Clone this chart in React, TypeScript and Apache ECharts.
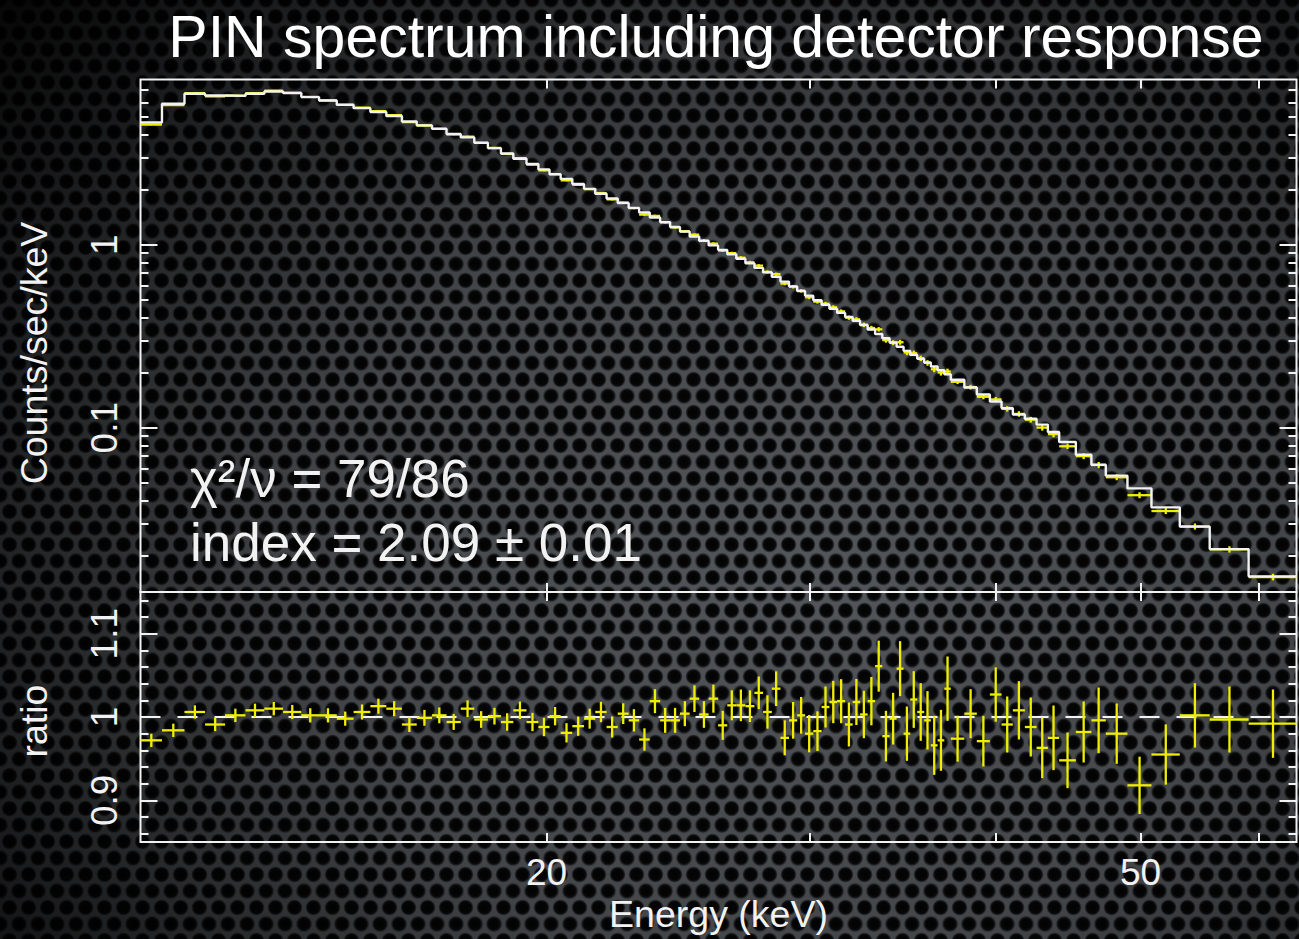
import React, { useEffect, useRef } from 'react';
import * as echarts from 'echarts';

// ---------- data ----------
const titleText = 'PIN spectrum including detector response';
const fitStats = ['χ²/ν = 79/86', 'index = 2.09 ± 0.01'];
const xName = 'Energy (keV)';
const rateName = 'Counts/sec/keV';
const ratioName = 'ratio';

// energy bin edges (keV)
const binEdges = [
  10.69, 11.05, 11.44, 11.81, 12.18, 12.57, 12.94, 13.32, 13.70, 14.08,
  14.47, 14.85, 15.24, 15.62, 16.00, 16.37, 16.76, 17.14, 17.52, 17.89,
  18.27, 18.64, 19.00, 19.39, 19.75, 20.09, 20.44, 20.81, 21.19, 21.56,
  21.94, 22.32, 22.70, 23.07, 23.45, 23.83, 24.20, 24.57, 24.94, 25.31,
  25.68, 26.06, 26.43, 26.80, 27.18, 27.56, 27.93, 28.31, 28.69, 29.07,
  29.44, 29.80, 30.18, 30.57, 30.94, 31.31, 31.70, 32.07, 32.44, 32.82,
  33.20, 33.57, 33.95, 34.32, 34.69, 35.05, 35.43, 35.81, 36.18, 36.56,
  36.94, 37.31, 38.10, 38.84, 39.63, 40.35, 41.06, 41.83, 42.59, 43.34,
  44.10, 45.25, 46.35, 47.39, 49.00, 50.85, 53.12, 55.63, 59.07, 63.60,
];

// folded model (counts/sec/keV) per bin
const modelRate = [
  4.66, 5.90, 6.69, 6.54, 6.51, 6.69, 6.88, 6.74, 6.41, 6.14,
  5.82, 5.58, 5.31, 5.05, 4.72, 4.49, 4.30, 4.03, 3.86, 3.61,
  3.375, 3.155, 2.95, 2.76, 2.58, 2.43, 2.29, 2.15, 2.02, 1.90,
  1.79, 1.69, 1.59, 1.50, 1.41, 1.33, 1.25, 1.18, 1.11, 1.05,
  0.992, 0.937, 0.886, 0.838, 0.791, 0.747, 0.706, 0.668, 0.629, 0.592,
  0.559, 0.527, 0.497, 0.470, 0.447, 0.424, 0.403, 0.384, 0.364, 0.344,
  0.325, 0.308, 0.292, 0.277, 0.263, 0.250, 0.238, 0.227, 0.216, 0.206,
  0.196, 0.183, 0.166, 0.152, 0.139, 0.128, 0.118, 0.112, 0.104, 0.0947,
  0.0835, 0.0712, 0.0628, 0.0547, 0.0466, 0.0367, 0.0288, 0.0217, 0.0154,
];

// data / model ratio per bin
const ratioValues = [
  0.972, 0.984, 1.006, 0.991, 1.002, 1.008, 1.010, 1.006, 1.002, 1.002,
  0.998, 1.006, 1.013, 1.010, 0.991, 0.999, 1.002, 0.994, 1.010, 0.997,
  1.001, 0.994, 1.008, 0.994, 0.988, 1.001, 0.981, 0.989, 0.998, 1.006,
  0.988, 1.004, 0.996, 0.973, 1.019, 0.996, 0.996, 1.004, 1.022, 1.003,
  1.022, 0.990, 1.014, 1.014, 1.013, 1.029, 1.006, 1.034, 0.975, 0.996,
  1.002, 0.980, 0.983, 1.012, 1.018, 1.019, 0.991, 1.018, 1.003, 1.019,
  1.061, 0.977, 0.998, 1.058, 0.980, 1.021, 1.006, 0.996, 0.966, 0.972,
  1.034, 0.974, 1.004, 0.971, 1.027, 0.991, 1.008, 0.988, 0.963, 0.975,
  0.948, 0.982, 0.996, 0.980, 0.918, 0.955, 1.002, 0.997, 0.992,
];

// 1-sigma error on the ratio per bin
const ratioErrors = [
  0.008, 0.008, 0.008, 0.008, 0.008, 0.008, 0.008, 0.0085, 0.0085, 0.0085,
  0.0085, 0.009, 0.009, 0.009, 0.009, 0.0095, 0.0095, 0.0095, 0.010, 0.010,
  0.010, 0.0105, 0.0105, 0.011, 0.011, 0.011, 0.0116, 0.0116, 0.012, 0.0122,
  0.0126, 0.0124, 0.0134, 0.0134, 0.0144, 0.015, 0.015, 0.015, 0.016, 0.016,
  0.0168, 0.0174, 0.018, 0.019, 0.019, 0.0196, 0.020, 0.0208, 0.021, 0.022,
  0.022, 0.0224, 0.0238, 0.0246, 0.0254, 0.0264, 0.0264, 0.0276, 0.0284, 0.029,
  0.0306, 0.0304, 0.031, 0.033, 0.0326, 0.034, 0.0346, 0.035, 0.0354, 0.0366,
  0.0386, 0.0276, 0.0294, 0.0304, 0.0326, 0.0336, 0.035, 0.0354, 0.0364, 0.0388,
  0.0334, 0.0366, 0.0394, 0.0362, 0.0344, 0.0362, 0.0386, 0.0396, 0.041,
];

// axes
const xRange = [10.69, 63.6];
const rateRange = [0.01265, 8];
const ratioRange = [0.85, 1.15];
const xTickValues = [20, 30, 40, 50, 60];
const xLabelValues = [20, 50];
const rateMajorTicks = [0.1, 1];
const rateMinorTicks = [0.02, 0.03, 0.04, 0.05, 0.06, 0.07, 0.08, 0.09, 0.2, 0.3, 0.4, 0.5, 0.6, 0.7, 0.8, 0.9, 2, 3, 4, 5, 6, 7];
const ratioMajorTicks = [0.9, 1, 1.1];
const ratioMinorTicks = [0.86, 0.88, 0.92, 0.94, 0.96, 0.98, 1.02, 1.04, 1.06, 1.08, 1.12, 1.14];

// ---------- styling ----------
const FONT = '"Liberation Sans", Arial, Helvetica, sans-serif';
const WHITE = '#f2f2f2';
const YELLOW = '#f0ee00';

function xAxisDef(gridIndex: number, position: string, labels: boolean) {
  const ax: any = {
    type: 'log', logBase: 10, gridIndex, position,
    min: xRange[0], max: xRange[1],
    axisLine: { show: false, onZero: false },
    axisTick: { show: true, inside: true, length: 9, lineStyle: { color: WHITE, width: 2 }, customValues: xTickValues },
    axisLabel: labels
      ? { show: true, customValues: xLabelValues, margin: 12, color: WHITE, fontSize: 37, fontFamily: FONT,
          formatter: (v: number) => String(Math.round(v)) }
      : { show: false },
    splitLine: { show: false }, minorTick: { show: false }, minorSplitLine: { show: false },
  };
  if (labels) {
    ax.name = xName;
    ax.nameLocation = 'middle';
    ax.nameGap = 53;
    ax.nameTextStyle = { color: WHITE, fontSize: 37.5, fontFamily: FONT };
  }
  return ax;
}

function yAxisDef(gridIndex: number, position: string, type: string, range: number[], ticks: number[], len: number, labels: boolean) {
  return {
    type, gridIndex, position, min: range[0], max: range[1],
    ...(type === 'log' ? { logBase: 10 } : {}),
    axisLine: { show: false, onZero: false },
    axisTick: { show: true, inside: true, length: len, lineStyle: { color: WHITE, width: 2 }, customValues: ticks },
    axisLabel: labels
      ? { show: true, customValues: ticks, rotate: 90, margin: 18, color: WHITE, fontSize: 37, fontFamily: FONT,
          formatter: (v: number) => String(Math.round(v * 100) / 100) }
      : { show: false },
    splitLine: { show: false }, minorTick: { show: false }, minorSplitLine: { show: false },
  };
}

function crossRender(params: any, api: any) {
  const lo = api.value(0), hi = api.value(1), y = api.value(2), e = api.value(3);
  const xc = (lo + hi) / 2;
  const a = api.coord([lo, y]);
  const b = api.coord([hi, y]);
  const c = api.coord([xc, y - e]);
  const d = api.coord([xc, y + e]);
  const st = { stroke: YELLOW, lineWidth: 2.3 };
  return {
    type: 'group',
    children: [
      { type: 'line', shape: { x1: a[0], y1: a[1], x2: b[0], y2: b[1] }, style: st },
      { type: 'line', shape: { x1: c[0], y1: c[1], x2: d[0], y2: d[1] }, style: st },
    ],
  };
}

function buildOption() {
  const n = modelRate.length;
  const stepData: number[][] = [];
  for (let i = 0; i < n; i++) stepData.push([binEdges[i], modelRate[i]]);
  stepData.push([binEdges[n], modelRate[n - 1]]);

  const spectrumPoints: number[][] = [];
  const ratioPoints: number[][] = [];
  for (let i = 0; i < n; i++) {
    spectrumPoints.push([binEdges[i], binEdges[i + 1], modelRate[i] * ratioValues[i], modelRate[i] * ratioErrors[i]]);
    ratioPoints.push([binEdges[i], binEdges[i + 1], ratioValues[i], ratioErrors[i]]);
  }

  const L = 140.5, W = 1156;
  return {
    animation: false,
    backgroundColor: 'transparent',
    textStyle: { fontFamily: FONT, color: WHITE },
    title: {
      text: titleText, left: 716, top: 7, padding: 0, textAlign: 'center',
      textStyle: { color: '#ffffff', fontSize: 59, fontWeight: 'normal', fontFamily: FONT },
    },
    grid: [
      { left: L, top: 79.5, width: W, height: 512.5, show: true, borderColor: WHITE, borderWidth: 2, backgroundColor: 'transparent' },
      { left: L, top: 592, width: W, height: 250, show: true, borderColor: WHITE, borderWidth: 2, backgroundColor: 'transparent' },
    ],
    xAxis: [
      xAxisDef(0, 'bottom', false),
      xAxisDef(0, 'top', false),
      xAxisDef(1, 'bottom', true),
      xAxisDef(1, 'top', false),
    ],
    yAxis: [
      yAxisDef(0, 'left', 'log', rateRange, rateMajorTicks, 17, true),
      yAxisDef(0, 'left', 'log', rateRange, rateMinorTicks, 8, false),
      yAxisDef(0, 'right', 'log', rateRange, rateMajorTicks, 17, false),
      yAxisDef(0, 'right', 'log', rateRange, rateMinorTicks, 8, false),
      yAxisDef(1, 'left', 'value', ratioRange, ratioMajorTicks, 17, true),
      yAxisDef(1, 'left', 'value', ratioRange, ratioMinorTicks, 8, false),
      yAxisDef(1, 'right', 'value', ratioRange, ratioMajorTicks, 17, false),
      yAxisDef(1, 'right', 'value', ratioRange, ratioMinorTicks, 8, false),
    ],
    series: [
      {
        type: 'custom', name: 'data', xAxisIndex: 0, yAxisIndex: 0, clip: true, z: 2,
        renderItem: crossRender, encode: { x: [0, 1], y: 2 }, data: spectrumPoints,
      },
      {
        type: 'line', name: 'model', xAxisIndex: 0, yAxisIndex: 0, step: 'end', symbol: 'none', z: 3,
        lineStyle: { color: WHITE, width: 2.4 }, data: stepData, clip: true,
      },
      {
        type: 'line', name: 'unity', xAxisIndex: 2, yAxisIndex: 4, symbol: 'none', z: 2,
        lineStyle: { color: WHITE, width: 2, type: [20, 17] }, data: [[xRange[0], 1], [xRange[1], 1]],
      },
      {
        type: 'custom', name: 'ratio', xAxisIndex: 2, yAxisIndex: 4, clip: true, z: 3,
        renderItem: crossRender, encode: { x: [0, 1], y: 2 }, data: ratioPoints,
      },
    ],
    graphic: [
      { type: 'text', x: 34, y: 353, rotation: Math.PI / 2,
        style: { text: rateName, fill: WHITE, fontSize: 37.5, fontFamily: FONT, align: 'center', verticalAlign: 'middle' } },
      { type: 'text', x: 34, y: 721, rotation: Math.PI / 2,
        style: { text: ratioName, fill: WHITE, fontSize: 37.5, fontFamily: FONT, align: 'center', verticalAlign: 'middle' } },
      { type: 'text', x: 190, y: 478,
        style: { text: fitStats[0], fill: WHITE, fontSize: 53, fontFamily: FONT, align: 'left', verticalAlign: 'middle' } },
      { type: 'text', x: 190, y: 542,
        style: { text: fitStats[1], fill: WHITE, fontSize: 53, fontFamily: FONT, align: 'left', verticalAlign: 'middle' } },
    ],
  };
}

const hole = 'radial-gradient(circle at 50% 50%, #030303 0px, #060606 5.3px, rgba(16,18,20,0.95) 6.5px, rgba(0,0,0,0) 8.2px)';
const bgStyle: React.CSSProperties = {
  backgroundColor: '#53565a',
  backgroundImage: [
    'radial-gradient(ellipse 80% 90% at 62% 60%, rgba(0,0,0,0) 0%, rgba(0,0,0,0.18) 45%, rgba(0,0,0,0.9) 100%)',
    hole,
    hole,
  ].join(','),
  backgroundSize: '100% 100%, 19px 33px, 19px 33px',
  backgroundPosition: '0 0, 0 0, 9.5px 16.5px',
};

export default function App() {
  const ref = useRef<HTMLDivElement>(null);
  useEffect(() => {
    if (!ref.current) return;
    const chart = echarts.init(ref.current, null, { renderer: 'svg' });
    chart.setOption(buildOption() as any);
    return () => chart.dispose();
  }, []);
  return (
    <div
      ref={ref}
      style={{ position: 'fixed', left: 0, top: 0, width: 1299, height: 939, ...bgStyle }}
    />
  );
}
